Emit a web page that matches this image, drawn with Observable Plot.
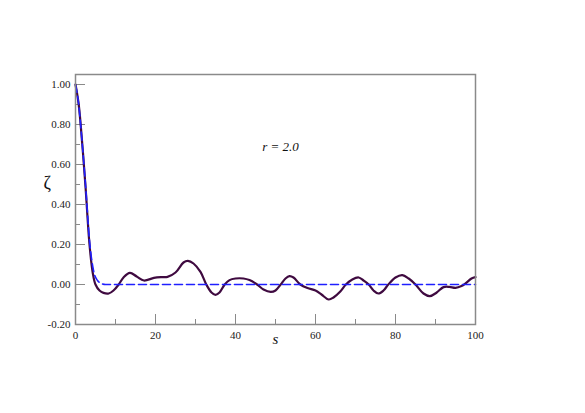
<!DOCTYPE html>
<html>
<head>
<meta charset="utf-8">
<script src="https://cdn.jsdelivr.net/npm/d3@7"></script>
<script src="https://cdn.jsdelivr.net/npm/@observablehq/plot@0.6"></script>
<style>
  html, body { margin: 0; padding: 0; background: #fff; }
  svg, svg text { font-family: "Liberation Serif", "DejaVu Serif", serif !important; }
</style>
</head>
<body>
<div id="chart"></div>
<script>
// Solid curve (zeta vs s)
const solidS = [0, 0.8, 1.7, 2.5, 3.5, 4.3, 5, 6, 7, 8.3, 9.5, 10.8, 12, 13.6, 15.3, 17.1, 19.6, 21.5, 23, 25, 27, 28.1, 29.5, 31.25, 32.7, 34, 35, 36, 37.3, 38.5, 40, 42, 43.5, 45.4, 47, 48.8, 50, 51.3, 52.5, 53.5, 54.5, 56.2, 58, 60, 61.5, 63.3, 64.5, 66.2, 67.6, 69.2, 70.8, 72, 73.3, 74.5, 75.7, 77, 78.2, 80, 81.7, 83.3, 85, 87, 88.6, 90.3, 92, 93.5, 95, 96.5, 97.5, 99, 100];
const solidZ = [1.0, 0.9, 0.7, 0.49, 0.2, 0.06, 0.0, -0.03, -0.042, -0.045, -0.03, 0.0, 0.035, 0.058, 0.04, 0.02, 0.033, 0.037, 0.038, 0.06, 0.11, 0.118, 0.105, 0.063, 0.0, -0.04, -0.052, -0.04, 0.0, 0.022, 0.03, 0.03, 0.022, 0.0, -0.025, -0.037, -0.03, 0.0, 0.03, 0.042, 0.035, 0.0, -0.018, -0.03, -0.05, -0.075, -0.065, -0.035, 0.0, 0.025, 0.035, 0.02, 0.0, -0.03, -0.045, -0.03, 0.0, 0.035, 0.047, 0.03, 0.0, -0.045, -0.058, -0.04, -0.013, -0.012, -0.017, -0.008, 0.005, 0.03, 0.037];
// Dashed curve
const dashS = [0, 0.8, 1.7, 2.5, 3.5, 4.5, 5.5, 6.5, 7.5, 100];
const dashZ = [1.0, 0.9, 0.7, 0.5, 0.22, 0.07, 0.02, 0.005, 0.0, 0.0];

const xMajor = [0, 20, 40, 60, 80, 100];
const xMinor = [10, 30, 50, 70, 90];
const yMajor = [-0.2, 0, 0.2, 0.4, 0.6, 0.8, 1.0];
const yMinor = [-0.1, 0.1, 0.3, 0.5, 0.7, 0.9];
const xTickLabels = ["0", "20", "40", "60", "80", "100"];
const yTickLabels = ["-0.20", "0.00", "0.20", "0.40", "0.60", "0.80", "1.00"];

const solid = solidS.map((s, i) => ({s, z: solidZ[i]}));
const dashed = dashS.map((s, i) => ({s, z: dashZ[i]}));

const W = 585, H = 413;
const mL = 75, mR = 110, mT = 74, mB = 89;
const pw = W - mL - mR, ph = H - mT - mB;
const frameColor = "#8a8a8a";
const serif = "Liberation Serif";

const chart = Plot.plot({
  width: W,
  height: H,
  marginLeft: mL,
  marginRight: mR,
  marginTop: mT,
  marginBottom: mB,
  style: {fontFamily: serif, fontSize: "11px", color: "#222", background: "#fff"},
  x: {domain: [0, 100]},
  y: {domain: [-0.2, 1.05]},
  marks: [
    Plot.axisX(xMajor, {tickSize: 0, tickPadding: 7, tickFormat: (d, i) => xTickLabels[i], label: null, fontSize: 11, fontFamily: serif}),
    Plot.axisY(yMajor, {tickSize: 0, tickPadding: 5, tickFormat: (d, i) => yTickLabels[i], label: null, fontSize: 11, fontFamily: serif}),
    Plot.tickY(yMajor, {y: d => d, stroke: frameColor, strokeWidth: 1, insetRight: pw - 10}),
    Plot.tickY(yMinor, {y: d => d, stroke: frameColor, strokeWidth: 1, insetRight: pw - 5}),
    Plot.tickX(xMajor, {x: d => d, stroke: frameColor, strokeWidth: 1, insetTop: ph - 10}),
    Plot.tickX(xMinor, {x: d => d, stroke: frameColor, strokeWidth: 1, insetTop: ph - 5}),
    Plot.line(solid, {x: "s", y: "z", stroke: "#3f0a40", strokeWidth: 2.2, curve: "catmull-rom"}),
    Plot.line(dashed, {x: "s", y: "z", stroke: "#1f1fff", strokeWidth: 1.6, strokeDasharray: "8,4", curve: "monotone-x"}),
    Plot.frame({stroke: frameColor, strokeWidth: 1.5}),
    Plot.text(["s"], {frameAnchor: "bottom", dy: 19, fontStyle: "italic", fontSize: 15, fill: "#111", fontFamily: serif}),
    Plot.text(["ζ"], {frameAnchor: "left", dx: -32, dy: -16, fontSize: 18, fill: "#111", fontFamily: serif}),
    Plot.text(["r = 2.0"], {frameAnchor: "top-left", textAnchor: "middle", lineAnchor: "middle", dx: 205, dy: 72, fontStyle: "italic", fontSize: 13, fill: "#111", fontFamily: serif})
  ]
});
document.getElementById("chart").appendChild(chart);
</script>
</body>
</html>
